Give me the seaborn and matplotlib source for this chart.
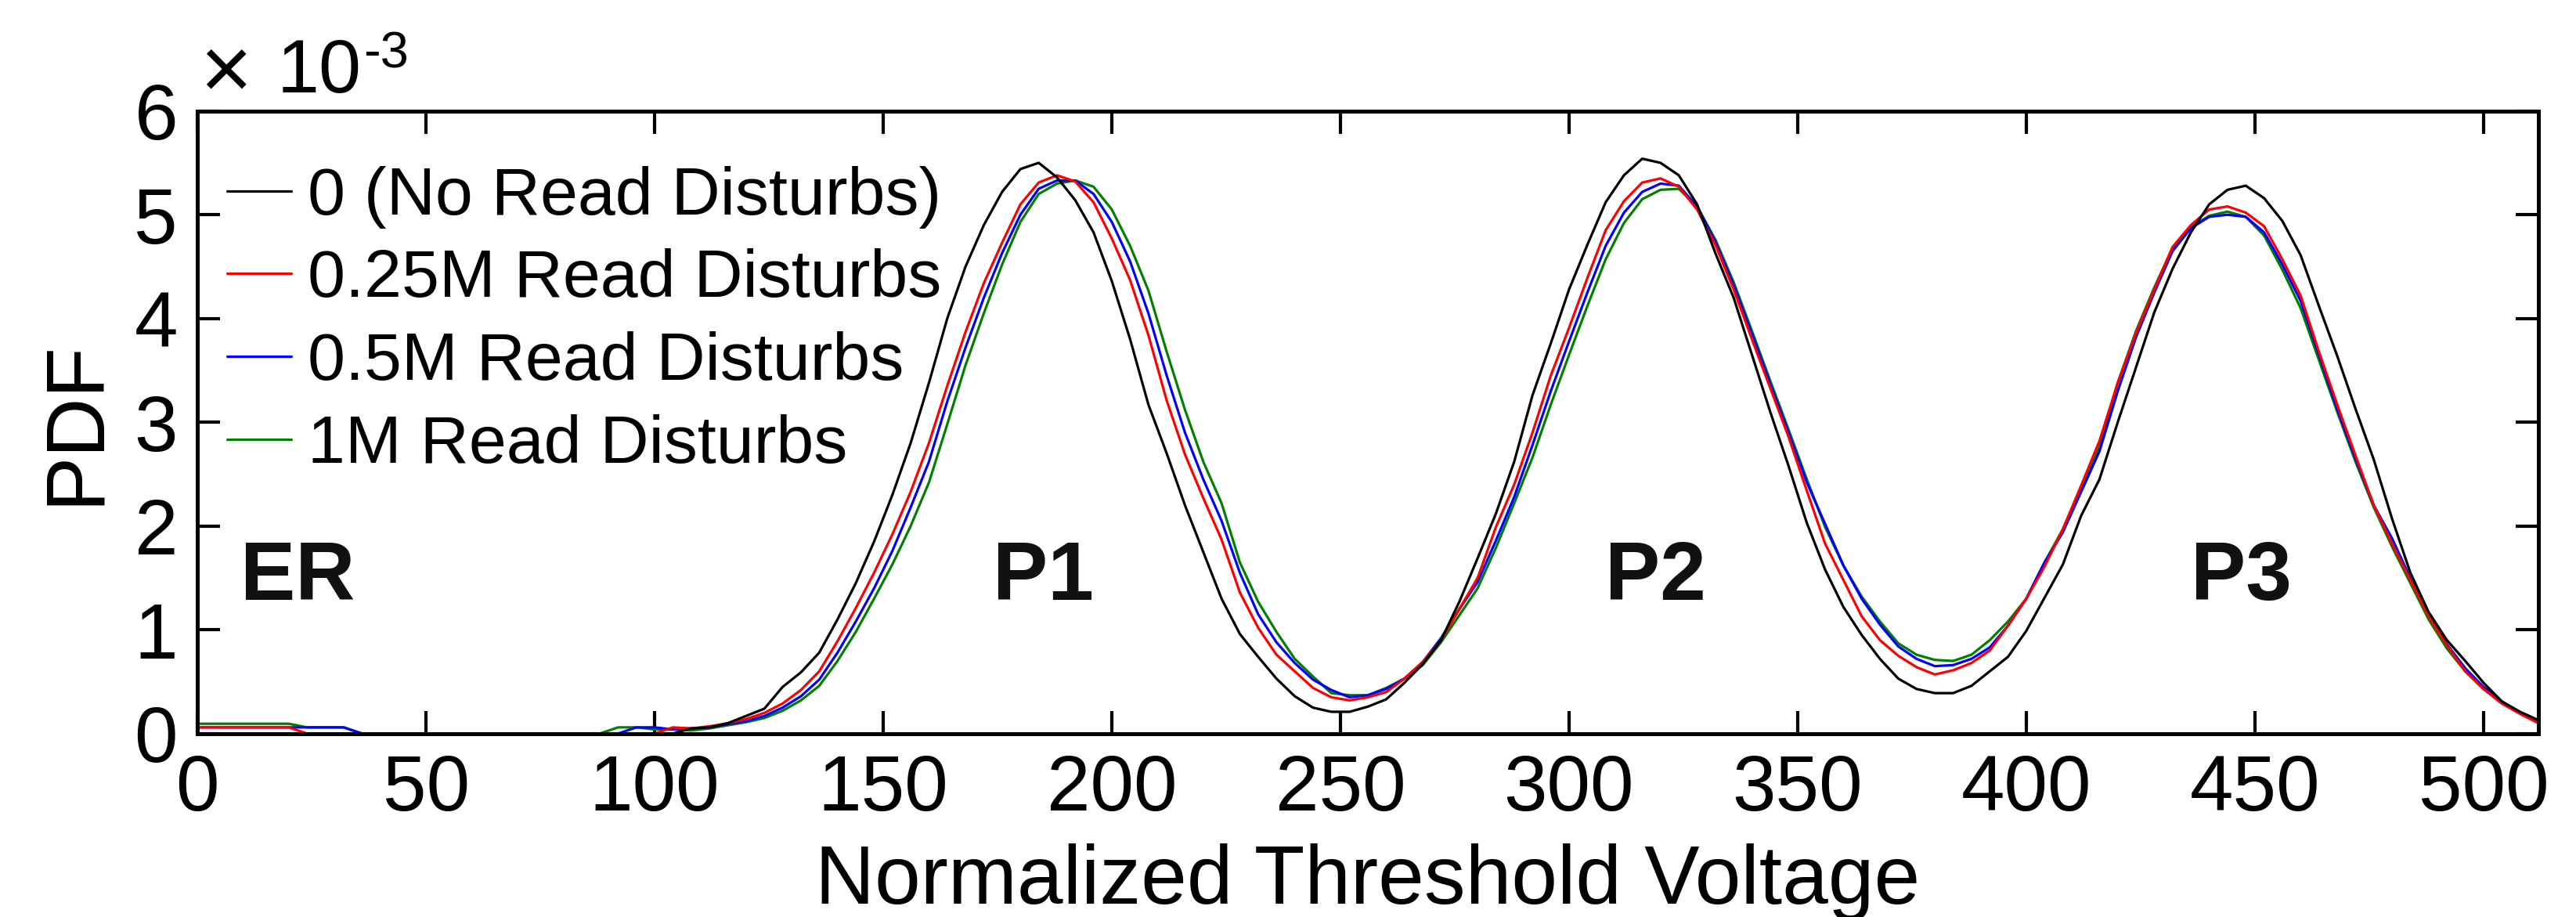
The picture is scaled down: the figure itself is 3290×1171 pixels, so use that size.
import matplotlib
matplotlib.use("Agg")
import matplotlib.pyplot as plt
import numpy as np
import seaborn as sns

# Normalized threshold voltage (read every 4 steps off the chart)
vth = np.arange(0, 513, 4)

# PDF values, in units of 1e-3
pdf_0 = [
    0, 0, 0, 0, 0, 0, 0, 0, 0, 0, 0, 0, 0, 0, 0, 0, 0, 0, 0, 0, 0, 0, 0, 0, 0, 0, 0,
    0.05, 0.06, 0.1, 0.17, 0.24, 0.45, 0.59, 0.78, 1.1, 1.45, 1.85, 2.3, 2.8,
    3.38, 4.0, 4.5, 4.9, 5.22, 5.44, 5.5, 5.36, 5.14, 4.83, 4.36, 3.8, 3.17, 2.7, 2.2, 1.75,
    1.3, 0.96, 0.74, 0.53, 0.36, 0.25, 0.21, 0.21, 0.26, 0.33, 0.49, 0.67, 0.9, 1.27, 1.69, 2.12,
    2.62, 3.26, 3.76, 4.28, 4.71, 5.12, 5.38, 5.54, 5.5, 5.38, 5.1, 4.63, 4.2, 3.65, 3.1, 2.58,
    2.03, 1.58, 1.22, 0.95, 0.72, 0.53, 0.43, 0.39, 0.39, 0.46, 0.6, 0.74, 0.99, 1.31, 1.63, 2.1,
    2.45, 3.0, 3.53, 4.06, 4.48, 4.83, 5.1, 5.24, 5.28, 5.16, 4.94, 4.61, 4.12, 3.64, 3.13, 2.64,
    2.07, 1.55, 1.17, 0.9, 0.7, 0.49, 0.31, 0.21, 0.13,
]
pdf_025m = [
    0.06, 0.06, 0.06, 0.06, 0.06, 0.06, 0, 0, 0, 0, 0, 0, 0, 0, 0, 0, 0, 0, 0, 0, 0, 0, 0, 0, 0, 0, 0.06,
    0.05, 0.07, 0.1, 0.14, 0.2, 0.29, 0.42, 0.6, 0.89, 1.21, 1.55, 1.92, 2.33,
    2.8, 3.35, 3.87, 4.34, 4.73, 5.1, 5.31, 5.38, 5.32, 5.12, 4.77, 4.37, 3.84, 3.21, 2.69, 2.27,
    1.87, 1.36, 1.02, 0.76, 0.6, 0.44, 0.35, 0.32, 0.35, 0.4, 0.53, 0.69, 0.9, 1.2, 1.5, 1.99,
    2.4, 2.9, 3.45, 3.91, 4.39, 4.85, 5.13, 5.31, 5.35, 5.27, 5.05, 4.71, 4.28, 3.8, 3.33, 2.86,
    2.34, 1.83, 1.48, 1.13, 0.9, 0.75, 0.64, 0.57, 0.61, 0.68, 0.8, 1.04, 1.3, 1.61, 1.97, 2.39,
    2.82, 3.38, 3.86, 4.28, 4.69, 4.9, 5.05, 5.08, 5.02, 4.89, 4.57, 4.22, 3.68, 3.17, 2.68, 2.2,
    1.83, 1.48, 1.13, 0.85, 0.6, 0.43, 0.29, 0.19, 0.1,
]
pdf_05m = [
    0.06, 0.06, 0.06, 0.06, 0.06, 0.06, 0.06, 0.06, 0.06, 0, 0, 0, 0, 0, 0, 0, 0, 0, 0, 0, 0, 0, 0, 0, 0.06, 0.06, 0.04,
    0.05, 0.06, 0.09, 0.12, 0.17, 0.25, 0.36, 0.52, 0.78, 1.08, 1.4, 1.76, 2.18,
    2.62, 3.2, 3.72, 4.2, 4.63, 5.0, 5.25, 5.33, 5.33, 5.2, 4.93, 4.55, 4.05, 3.45, 2.9, 2.45,
    2.05, 1.55, 1.15, 0.88, 0.68, 0.52, 0.42, 0.35, 0.37, 0.43, 0.53, 0.69, 0.92, 1.2, 1.46, 1.86,
    2.28, 2.78, 3.3, 3.78, 4.25, 4.7, 5.02, 5.22, 5.3, 5.28, 5.08, 4.74, 4.32, 3.85, 3.37, 2.9,
    2.42, 2.02, 1.62, 1.3, 1.05, 0.84, 0.72, 0.65, 0.66, 0.72, 0.83, 1.04, 1.3, 1.65, 1.94, 2.33,
    2.72, 3.3, 3.82, 4.25, 4.65, 4.87, 4.98, 5.0, 4.98, 4.83, 4.52, 4.17, 3.65, 3.13, 2.65, 2.2,
    1.88, 1.5, 1.15, 0.86, 0.63, 0.45, 0.31, 0.2, 0.11,
]
pdf_1m = [
    0.095, 0.095, 0.095, 0.095, 0.095, 0.095, 0.06, 0.06, 0.06, 0, 0, 0, 0, 0, 0, 0, 0, 0, 0, 0, 0, 0, 0, 0.06, 0.06, 0.04, 0.04,
    0.03, 0.05, 0.08, 0.11, 0.15, 0.22, 0.32, 0.46, 0.7, 0.98, 1.3, 1.63, 2.0,
    2.42, 2.98, 3.55, 4.05, 4.52, 4.93, 5.2, 5.3, 5.33, 5.27, 5.05, 4.7, 4.27, 3.68, 3.12, 2.62,
    2.22, 1.65, 1.27, 0.98, 0.72, 0.55, 0.39, 0.37, 0.37, 0.44, 0.53, 0.66, 0.88, 1.14, 1.4, 1.79,
    2.22, 2.66, 3.17, 3.65, 4.12, 4.57, 4.92, 5.15, 5.24, 5.25, 5.08, 4.76, 4.35, 3.88, 3.4, 2.93,
    2.45, 1.99, 1.62, 1.32, 1.08, 0.87, 0.76, 0.71, 0.7, 0.76, 0.9, 1.08, 1.3, 1.65, 1.97, 2.36,
    2.76, 3.38, 3.88, 4.3, 4.68, 4.88, 4.99, 5.03, 4.98, 4.8, 4.47, 4.1, 3.6, 3.1, 2.62, 2.18,
    1.8, 1.45, 1.1, 0.82, 0.6, 0.43, 0.3, 0.2, 0.12,
]

series_labels = ["0 (No Read Disturbs)", "0.25M Read Disturbs",
                 "0.5M Read Disturbs", "1M Read Disturbs"]
series_colors = ["black", "red", "blue", "green"]
series_values = [pdf_0, pdf_025m, pdf_05m, pdf_1m]

state_labels = ["ER", "P1", "P2", "P3"]
state_x = [22, 185, 319, 447]

sns.set_style("ticks")
plt.rcParams["font.family"] = ["Liberation Sans", "DejaVu Sans"]
plt.rcParams.update({
    "text.color": "black",
    "axes.labelcolor": "black",
    "axes.edgecolor": "black",
    "xtick.color": "black",
    "ytick.color": "black",
})

fig = plt.figure(figsize=(32.91, 11.71), dpi=100)
ax = fig.add_axes([0.0766, 0.2, 0.9085, 0.679])

# draw the undisturbed curve last so it sits on top
handles = {}
for label, color, values in reversed(list(zip(series_labels, series_colors, series_values))):
    sns.lineplot(x=vth, y=values, color=color, lw=2.3, ax=ax, label=label)
    handles[label] = ax.lines[-1]

ax.legend([handles[l] for l in series_labels], series_labels,
          loc="upper left", bbox_to_anchor=(0.0127, 0.912), frameon=False,
          fontsize=62, handlelength=0.95, handletextpad=0.25, labelspacing=0.3,
          borderpad=0, borderaxespad=0)

for name, xpos in zip(state_labels, state_x):
    ax.text(xpos, 1.29, name, ha="center", va="baseline", fontsize=76, fontweight="bold",
            color="#111111")

ax.set_xlim(0, 512)
ax.set_ylim(0, 6)
ax.set_xticks(np.arange(0, 501, 50))
ax.set_yticks(np.arange(0, 7, 1))
ax.tick_params(direction="in", length=21, width=3, top=True, right=True,
               labelsize=72, pad=18)
for side in ax.spines.values():
    side.set_linewidth(3.6)

ax.set_xlabel("Normalized Threshold Voltage", fontsize=76, labelpad=15)
ax.set_ylabel("PDF", fontsize=76, labelpad=18)

# scale factor written above the y axis
ax.text(0.001, 1.021, "×", transform=ax.transAxes, fontsize=82,
        va="baseline", ha="left")
ax.text(0.034, 1.030, "10", transform=ax.transAxes, fontsize=70,
        va="baseline", ha="left")
ax.text(0.071, 1.069, "-3", transform=ax.transAxes, fontsize=47,
        va="baseline", ha="left")

fig.savefig("out.png", dpi=100)
